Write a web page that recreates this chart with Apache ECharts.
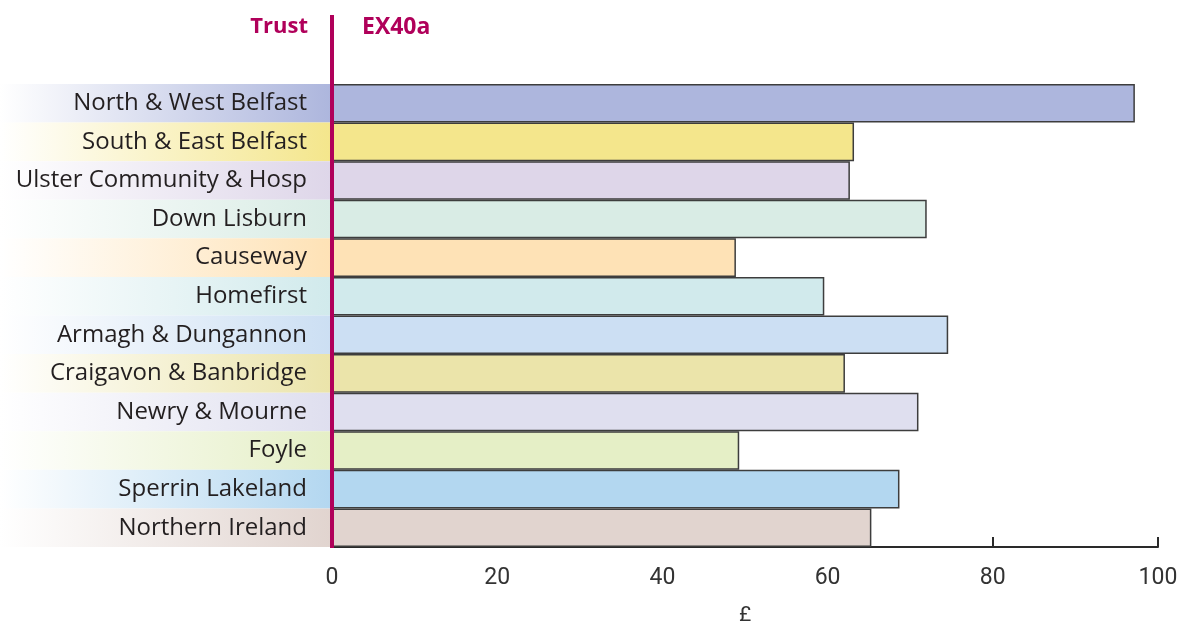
<!DOCTYPE html>
<html>
<head>
<meta charset="utf-8">
<script src="https://cdn.jsdelivr.net/npm/echarts@6/dist/echarts.min.js"></script>
<style>
html,body{margin:0;padding:0;background:#fff;overflow:hidden;}
#chart{width:1181px;height:623px;}
</style>
</head>
<body>
<div id="chart"></div>
<script>
const categories = ["North & West Belfast","South & East Belfast","Ulster Community & Hosp","Down Lisburn","Causeway","Homefirst","Armagh & Dungannon","Craigavon & Banbridge","Newry & Mourne","Foyle","Sperrin Lakeland","Northern Ireland"];
const values = [97.2, 63.2, 62.7, 72.0, 48.9, 59.6, 74.6, 62.1, 71.0, 49.3, 68.7, 65.3];
const colors = ["#adb6dd","#f4e68c","#ded6e9","#d9ece5","#fee2b6","#d1eaec","#ccdff3","#ebe4aa","#dfdfef","#e5efc6","#b3d7f0","#e1d4cf"];
const xTicks = [0, 20, 40, 60, 80, 100];
const bgValues = categories.map(() => 1);

const LEFT = 332, TOP = 84, HEIGHT = 463, WIDTH = 826;
const labelFont = "'Open Sans', 'Noto Sans', sans-serif";

const chart = echarts.init(document.getElementById('chart'), null, {renderer: 'canvas', width: 1181, height: 623});
chart.setOption({
  animation: false,
  grid: [
    {left: LEFT, width: WIDTH, top: TOP, height: HEIGHT, containLabel: false, outerBoundsMode: 'none'},
    {left: 0, width: LEFT - 1, top: TOP, height: HEIGHT, containLabel: false, outerBoundsMode: 'none'}
  ],
  xAxis: [
    {
      type: 'value', gridIndex: 0, min: 0, max: 100, interval: 20,
      axisLine: {show: true, lineStyle: {color: '#2a2a2a', width: 2}},
      axisTick: {show: true, inside: true, length: 10, lineStyle: {color: '#2a2a2a', width: 2}},
      splitLine: {show: false},
      axisLabel: {
        margin: 20, color: '#333', fontSize: 23,
        fontFamily: "Roboto, sans-serif",
        formatter: v => xTicks.includes(v) ? String(v) : ''
      },
      name: '£', nameLocation: 'middle', nameGap: 58,
      nameTextStyle: {color: '#333', fontSize: 21, fontFamily: "Roboto, sans-serif"},
      z: 1
    },
    {type: 'value', gridIndex: 1, min: 0, max: 1, show: false}
  ],
  yAxis: [
    {
      type: 'category', gridIndex: 0, data: categories, inverse: true,
      axisLine: {show: false}, axisTick: {show: false},
      axisLabel: {margin: 25, color: '#231f20', fontSize: 24, fontFamily: labelFont},
      z: 5
    },
    {type: 'category', gridIndex: 1, data: categories, inverse: true, show: false}
  ],
  series: [
    {
      type: 'bar', xAxisIndex: 1, yAxisIndex: 1, data: bgValues.map((v, i) => ({
        value: v,
        itemStyle: {
          color: new echarts.graphic.LinearGradient(0, 0, 1, 0, [
            {offset: 0, color: '#ffffff'},
            {offset: 1, color: colors[i]}
          ])
        }
      })),
      barCategoryGap: 0, barWidth: '100%', silent: true, z: 0
    },
    {
      type: 'bar', xAxisIndex: 0, yAxisIndex: 0,
      data: values.map((v, i) => ({value: v, itemStyle: {color: colors[i]}})),
      barCategoryGap: 0, barWidth: '100%',
      itemStyle: {borderColor: '#3d3d3d', borderWidth: 1.5},
      z: 3
    }
  ],
  graphic: [
    {type: 'line', shape: {x1: 332, y1: 15, x2: 332, y2: 548}, style: {stroke: '#b0005a', lineWidth: 4}, z: 100},
    {type: 'text', x: 308, y: 27, style: {text: 'Trust', fill: '#b0005a', font: "bold 22px 'Open Sans', sans-serif", textAlign: 'right', textVerticalAlign: 'middle'}, z: 100},
    {type: 'text', x: 362, y: 27, style: {text: 'EX40a', fill: '#b0005a', font: "bold 23px 'Open Sans', sans-serif", textAlign: 'left', textVerticalAlign: 'middle'}, z: 100}
  ]
});
</script>
</body>
</html>
